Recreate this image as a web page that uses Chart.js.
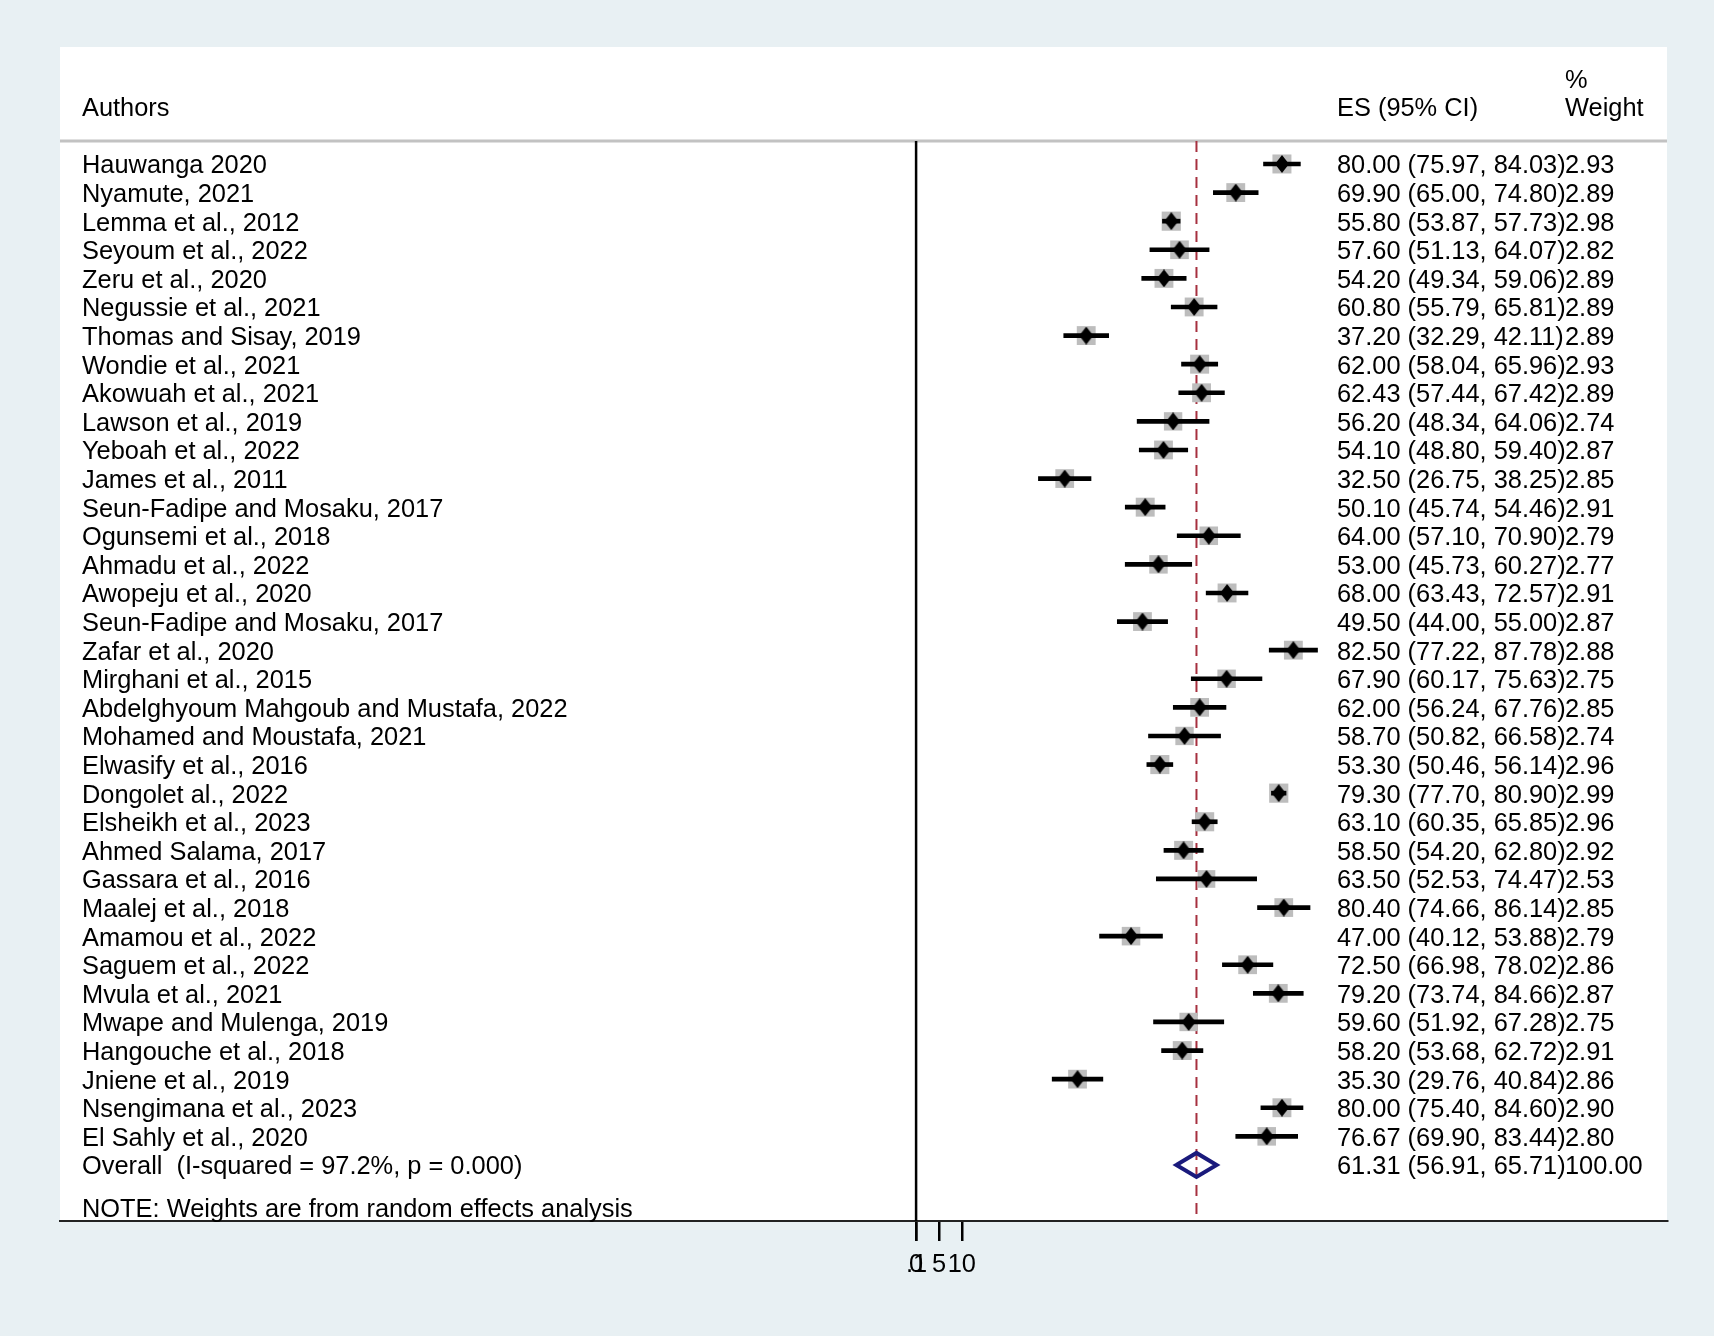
<!DOCTYPE html>
<html>
<head>
<meta charset="utf-8">
<title>Forest plot</title>
<script src="https://cdn.jsdelivr.net/npm/chart.js@4.4.0/dist/chart.umd.min.js"></script>
<style>
  html, body { margin: 0; padding: 0; background: #e8f0f3; }
  #wrap { width: 1714px; height: 1336px; }
</style>
</head>
<body>
<div id="wrap"><canvas id="forest" width="1714" height="1336"></canvas></div>
<script>
// studies, top to bottom
const authors = [
  "Hauwanga 2020", "Nyamute, 2021", "Lemma et al., 2012", "Seyoum et al., 2022",
  "Zeru et al., 2020", "Negussie et al., 2021", "Thomas and Sisay, 2019", "Wondie et al., 2021",
  "Akowuah et al., 2021", "Lawson et al., 2019", "Yeboah et al., 2022", "James et al., 2011",
  "Seun-Fadipe and Mosaku, 2017", "Ogunsemi et al., 2018", "Ahmadu et al., 2022", "Awopeju et al., 2020",
  "Seun-Fadipe and Mosaku, 2017", "Zafar et al., 2020", "Mirghani et al., 2015",
  "Abdelghyoum Mahgoub and Mustafa, 2022", "Mohamed and Moustafa, 2021", "Elwasify et al., 2016",
  "Dongolet al., 2022", "Elsheikh et al., 2023", "Ahmed Salama, 2017", "Gassara et al., 2016",
  "Maalej et al., 2018", "Amamou et al., 2022", "Saguem et al., 2022", "Mvula et al., 2021",
  "Mwape and Mulenga, 2019", "Hangouche et al., 2018", "Jniene et al., 2019",
  "Nsengimana et al., 2023", "El Sahly et al., 2020"
];
const es = [
  80.00, 69.90, 55.80, 57.60, 54.20, 60.80, 37.20, 62.00, 62.43, 56.20, 54.10, 32.50,
  50.10, 64.00, 53.00, 68.00, 49.50, 82.50, 67.90, 62.00, 58.70, 53.30, 79.30, 63.10,
  58.50, 63.50, 80.40, 47.00, 72.50, 79.20, 59.60, 58.20, 35.30, 80.00, 76.67
];
const ciLow = [
  75.97, 65.00, 53.87, 51.13, 49.34, 55.79, 32.29, 58.04, 57.44, 48.34, 48.80, 26.75,
  45.74, 57.10, 45.73, 63.43, 44.00, 77.22, 60.17, 56.24, 50.82, 50.46, 77.70, 60.35,
  54.20, 52.53, 74.66, 40.12, 66.98, 73.74, 51.92, 53.68, 29.76, 75.40, 69.90
];
const ciHigh = [
  84.03, 74.80, 57.73, 64.07, 59.06, 65.81, 42.11, 65.96, 67.42, 64.06, 59.40, 38.25,
  54.46, 70.90, 60.27, 72.57, 55.00, 87.78, 75.63, 67.76, 66.58, 56.14, 80.90, 65.85,
  62.80, 74.47, 86.14, 53.88, 78.02, 84.66, 67.28, 62.72, 40.84, 84.60, 83.44
];
const weights = [
  2.93, 2.89, 2.98, 2.82, 2.89, 2.89, 2.89, 2.93, 2.89, 2.74, 2.87, 2.85,
  2.91, 2.79, 2.77, 2.91, 2.87, 2.88, 2.75, 2.85, 2.74, 2.96, 2.99, 2.96,
  2.92, 2.53, 2.85, 2.79, 2.86, 2.87, 2.75, 2.91, 2.86, 2.90, 2.80
];

const overallLabel = "Overall  (I-squared = 97.2%, p = 0.000)";
const overallES = 61.31;
const overallLow = 56.91;
const overallHigh = 65.71;
const overallWeight = 100.00;

const tickValues = [0, 0.1, 5, 10];
const tickLabels = ["0", ".1", "5", "10"];

const noteText = "NOTE: Weights are from random effects analysis";

// layout (row units on y, effect units on x)
const Y_MIN = -4.09, Y_MAX = 36.96;
const HEADER_RULE = -0.8;
const X_MIN = -187.2, X_MAX = 164.2;
const FONT_FAMILY = '"Liberation Sans", Arial, sans-serif';
const FONT_SIZE = 25.4;
const TEXT_NUDGE = 2.5; // px, centre of caps vs canvas 'middle'
const BG = '#e8f0f3';

const overallRow = authors.length;
const noteRow = overallRow + 1.5;

function diamondMark(w, h, color) {
  const c = document.createElement('canvas');
  c.width = w; c.height = h;
  const g = c.getContext('2d');
  g.fillStyle = color;
  g.beginPath();
  g.moveTo(w / 2, 0);
  g.lineTo(w, h / 2);
  g.lineTo(w / 2, h);
  g.lineTo(0, h / 2);
  g.closePath();
  g.fill();
  return c;
}

function boxRadius(w) {
  // square side grows with sqrt of weight; 'rect' side = radius * sqrt(2)
  const side = 19 * Math.sqrt(w / 2.93);
  return side / Math.SQRT2;
}

const fmt = v => v.toFixed(2);

const forestText = {
  id: 'forestText',
  beforeDraw(chart) {
    const { ctx, chartArea: a, width, height } = chart;
    ctx.save();
    ctx.fillStyle = BG;
    ctx.fillRect(0, 0, width, height);
    ctx.fillStyle = '#ffffff';
    ctx.fillRect(a.left, a.top, a.right - a.left, a.bottom - a.top);
    const y = chart.scales.y.getPixelForValue(HEADER_RULE);
    ctx.strokeStyle = '#c2c2c2';
    ctx.lineWidth = 3;
    ctx.beginPath();
    ctx.moveTo(a.left, y);
    ctx.lineTo(a.right, y);
    ctx.stroke();
    ctx.restore();
  },
  afterDraw(chart) {
    const { ctx, chartArea: a } = chart;
    const ys = chart.scales.y;
    const rowY = r => ys.getPixelForValue(r) + TEXT_NUDGE;
    const xName = a.left + 22, xES = a.left + 1277, xW = a.left + 1505;
    ctx.save();
    ctx.font = FONT_SIZE + 'px ' + FONT_FAMILY;
    ctx.fillStyle = '#000';
    ctx.textAlign = 'left';
    ctx.textBaseline = 'middle';

    ctx.fillText('Authors', xName, rowY(-2));
    ctx.fillText('ES (95% CI)', xES, rowY(-2));
    ctx.fillText('%', xW, rowY(-3));
    ctx.fillText('Weight', xW, rowY(-2));

    authors.forEach((name, i) => {
      const y = rowY(i);
      ctx.fillText(name, xName, y);
      ctx.fillText(fmt(es[i]) + ' (' + fmt(ciLow[i]) + ', ' + fmt(ciHigh[i]) + ')', xES, y);
      ctx.fillText(fmt(weights[i]), xW, y);
    });

    const yo = rowY(overallRow);
    ctx.fillText(overallLabel, xName, yo);
    ctx.fillText(fmt(overallES) + ' (' + fmt(overallLow) + ', ' + fmt(overallHigh) + ')', xES, yo);
    ctx.fillText(fmt(overallWeight), xW, yo);

    ctx.fillText(noteText, xName, rowY(noteRow));
    ctx.restore();
  }
};

const diamond = diamondMark(14, 18, '#000');
const dh = 0.42; // half height of overall diamond in rows

new Chart(document.getElementById('forest'), {
  type: 'scatter',
  data: {
    datasets: [
      {
        // overall diamond
        type: 'line',
        data: [
          { x: overallLow, y: overallRow },
          { x: overallES, y: overallRow - dh },
          { x: overallHigh, y: overallRow },
          { x: overallES, y: overallRow + dh },
          { x: overallLow, y: overallRow },
          { x: overallES, y: overallRow - dh }
        ],
        borderColor: '#1a1a7c',
        borderWidth: 4,
        borderJoinStyle: 'miter',
        pointRadius: 0,
        fill: false,
        tension: 0,
        order: 1
      },
      {
        // point estimates
        type: 'scatter',
        data: es.map((v, i) => ({ x: v, y: i })),
        pointStyle: diamond,
        pointRadius: 9,
        order: 2
      },
      {
        // confidence intervals
        type: 'bar',
        indexAxis: 'y',
        data: es.map((v, i) => ({ x: [ciLow[i], ciHigh[i]], y: i })),
        backgroundColor: '#000',
        borderWidth: 0,
        barThickness: 4,
        order: 3
      },
      {
        // weight boxes
        type: 'scatter',
        data: es.map((v, i) => ({ x: v, y: i })),
        pointStyle: 'rect',
        pointRadius: ctx => boxRadius(weights[ctx.dataIndex]),
        pointHoverRadius: ctx => boxRadius(weights[ctx.dataIndex]),
        backgroundColor: '#bdbdbd',
        borderWidth: 0,
        order: 4
      },
      {
        // null line
        type: 'line',
        data: [{ x: 0, y: HEADER_RULE }, { x: 0, y: Y_MAX }],
        borderColor: '#000',
        borderWidth: 2.5,
        pointRadius: 0,
        order: 5
      },
      {
        // overall effect line
        type: 'line',
        data: [{ x: overallES, y: HEADER_RULE }, { x: overallES, y: Y_MAX }],
        borderColor: '#a6303f',
        borderWidth: 2,
        borderDash: [11, 7],
        pointRadius: 0,
        order: 6
      }
    ]
  },
  options: {
    responsive: false,
    animation: false,
    events: [],
    layout: { padding: { left: 60, right: 47, top: 47, bottom: 0 } },
    plugins: { legend: { display: false }, tooltip: { enabled: false } },
    scales: {
      x: {
        type: 'linear',
        min: X_MIN,
        max: X_MAX,
        offset: false,
        afterBuildTicks: s => { s.ticks = tickValues.map(v => ({ value: v })); },
        afterFit: s => { s.height = 115; },
        grid: { offset: false, drawOnChartArea: false, drawTicks: true, tickLength: 20, color: '#000', lineWidth: 2.5 },
        border: { display: true, color: '#222', width: 2 },
        ticks: {
          autoSkip: false,
          maxRotation: 0,
          padding: 9,
          color: '#000',
          font: { family: FONT_FAMILY, size: FONT_SIZE },
          callback: (v, i) => tickLabels[i]
        }
      },
      y: {
        type: 'linear',
        display: false,
        reverse: true,
        offset: false,
        grid: { offset: false },
        min: Y_MIN,
        max: Y_MAX
      }
    }
  },
  plugins: [forestText]
});
</script>
</body>
</html>
